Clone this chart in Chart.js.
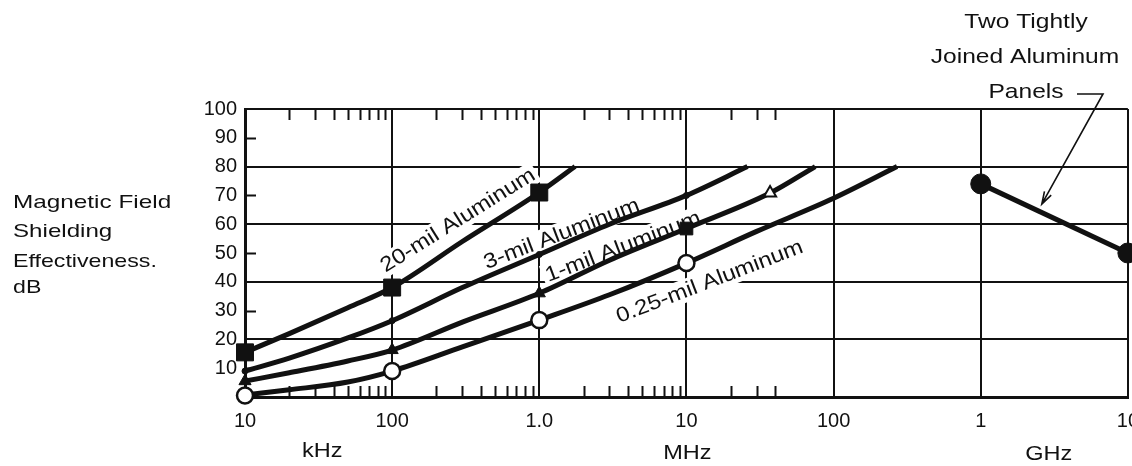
<!DOCTYPE html>
<html>
<head>
<meta charset="utf-8">
<script src="https://cdn.jsdelivr.net/npm/chart.js@4.4.1/dist/chart.umd.min.js"></script>
<style>
  html, body { margin: 0; padding: 0; background: #fff; overflow: hidden; }
  #wrap { position: absolute; left: 0; top: 0; width: 1151px; height: 466px; }
</style>
</head>
<body>
<div id="wrap"><canvas id="chart" width="1151" height="466"></canvas></div>
<script>
// Frequency axis (Hz) and its printed labels
const xTickValues = [1e4, 1e5, 1e6, 1e7, 1e8, 1e9, 1e10];
const xTickLabels = ['10', '100', '1.0', '10', '100', '1', '10'];
const yTickValues = [0, 10, 20, 30, 40, 50, 60, 70, 80, 90, 100];
const yTickLabels = ['', '10', '20', '30', '40', '50', '60', '70', '80', '90', '100'];
const yGridValues = [20, 40, 60, 80, 100];
const yMinorTicks = [10, 30, 50, 70, 90];
const minorDecades = [1e4, 1e5, 1e6, 1e7];
const minorSteps = [[2, 3, 4, 5, 6, 7, 8, 9], [2, 3, 4, 5, 6, 7, 8, 9], [2, 3, 4, 5, 6, 7, 8, 9], [2, 3, 4]];

// Curves, dB
const freq20 = [1e4, 2e4, 5e4, 1e5, 3e5, 1e6, 1.75e6];
const db20 = [15.5, 22, 31, 38, 54, 71, 80];
const freq3 = [1e4, 2e4, 5e4, 1e5, 3e5, 1e6, 3e6, 1e7, 2.6e7];
const db3 = [9, 13.5, 20.5, 26.5, 38, 49.5, 60, 70, 80];
const freq1 = [1e4, 2e4, 5e4, 1e5, 3e5, 1e6, 3e6, 1e7, 3.7e7, 7.5e7];
const db1 = [5.5, 8.4, 12.5, 16.3, 26, 36, 47.5, 58.5, 70.8, 80];
const freq025 = [1e4, 2e4, 5e4, 1e5, 3e5, 1e6, 3e6, 1e7, 3e7, 1e8, 2.7e8];
const db025 = [0.7, 2.5, 5.2, 9, 17.4, 26.7, 35.5, 46.5, 57.5, 69, 80];
const freqPanels = [1e9, 1e10];
const dbPanels = [74, 50];

// Marker points
const mark20Freq = [1e4, 1e5, 1e6];
const mark20Db = [15.5, 38, 71];
const mark3Freq = [1e4, 1e5, 1e6, 1e7];
const mark3Db = [9, 26.5, 49.5, 70];
const mark1TriFreq = [1e4, 1e5, 1e6];
const mark1TriDb = [5.5, 16.3, 36];
const mark1SqFreq = [1e7];
const mark1SqDb = [58.5];
const mark1OpenFreq = [3.7e7];
const mark1OpenDb = [70.8];
const mark025Freq = [1e4, 1e5, 1e6, 1e7];
const mark025Db = [0.5, 9, 26.7, 46.5];

const INK = '#111';
const FONT = '"Liberation Sans", Arial, Helvetica, sans-serif';

function pts(xs, ys) {
  return xs.map((x, i) => ({ x: x, y: ys[i] }));
}

function curve(xs, ys) {
  return {
    data: pts(xs, ys), borderColor: INK, borderWidth: 5, pointRadius: 0,
    cubicInterpolationMode: 'monotone', fill: false, order: 5
  };
}

function markers(xs, ys, style, radius, fillColor, lineW) {
  return {
    data: pts(xs, ys), showLine: false, pointStyle: style, pointRadius: radius,
    pointBackgroundColor: fillColor, pointBorderColor: INK, pointBorderWidth: lineW,
    clip: false, order: 1
  };
}

// Curve labels: anchor (start of baseline) in data units, angle in degrees
const curveLabels = [
  { text: '20-mil Aluminum', f: 9.0e4, db: 43.1, angle: -32 },
  { text: '3-mil Aluminum', f: 4.4e5, db: 44.4, angle: -21 },
  { text: '1-mil Aluminum', f: 1.15e6, db: 39.9, angle: -21 },
  { text: '0.25-mil Aluminum', f: 3.5e6, db: 25.7, angle: -21 }
];

function wideText(ctx, text, x, y, sx, align) {
  ctx.save();
  ctx.translate(x, y);
  ctx.scale(sx, 1);
  ctx.textAlign = align;
  ctx.fillText(text, 0, 0);
  ctx.restore();
}

const decor = {
  id: 'decor',
  beforeDatasetsDraw(chart) {
    const { ctx, chartArea: a, scales: { x, y } } = chart;
    ctx.save();
    ctx.strokeStyle = INK;
    ctx.lineWidth = 2;
    ctx.beginPath();
    minorDecades.forEach((d, i) => {
      minorSteps[i].forEach(m => {
        const px = Math.round(x.getPixelForValue(d * m)) + 0.5;
        ctx.moveTo(px, a.top); ctx.lineTo(px, a.top + 11);
        ctx.moveTo(px, a.bottom); ctx.lineTo(px, a.bottom - 11);
      });
    });
    yMinorTicks.forEach(v => {
      const py = Math.round(y.getPixelForValue(v)) + 0.5;
      ctx.moveTo(a.left, py); ctx.lineTo(a.left + 11, py);
    });
    ctx.stroke();

    // labels along the curves, on white so the grid breaks around them
    ctx.font = '21px ' + FONT;
    ctx.textBaseline = 'alphabetic';
    curveLabels.forEach(l => {
      const px = x.getPixelForValue(l.f);
      const py = y.getPixelForValue(l.db);
      const w = ctx.measureText(l.text).width * 1.14;
      ctx.save();
      ctx.translate(px, py);
      ctx.rotate(l.angle * Math.PI / 180);
      ctx.fillStyle = '#fff';
      ctx.fillRect(-3, -18, w + 6, 23);
      ctx.fillStyle = INK;
      ctx.scale(1.14, 1);
      ctx.fillText(l.text, 0, 0);
      ctx.restore();
    });
    ctx.restore();
  },
  afterDraw(chart) {
    const { ctx, scales: { x, y } } = chart;
    ctx.save();
    ctx.fillStyle = INK;
    ctx.textBaseline = 'alphabetic';

    // axis title
    ctx.font = '19px ' + FONT;
    wideText(ctx, 'Magnetic Field', 13, 208, 1.28, 'left');
    wideText(ctx, 'Shielding', 13, 237, 1.27, 'left');
    wideText(ctx, 'Effectiveness.', 13, 267, 1.22, 'left');
    wideText(ctx, 'dB', 13, 293, 1.22, 'left');

    // units under the frequency axis
    ctx.font = '21px ' + FONT;
    wideText(ctx, 'kHz', x.getPixelForValue(3.35e4), 457, 1.12, 'center');
    wideText(ctx, 'MHz', x.getPixelForValue(1e7) + 1, 459, 1.12, 'center');
    wideText(ctx, 'GHz', x.getPixelForValue(2.9e9), 460, 1.12, 'center');

    // note for the panel curve
    wideText(ctx, 'Two Tightly', 1026, 28, 1.17, 'center');
    wideText(ctx, 'Joined Aluminum', 1025, 63, 1.17, 'center');
    wideText(ctx, 'Panels', 1026, 98, 1.17, 'center');

    const tipX = x.getPixelForValue(2.6e9);
    const tipY = y.getPixelForValue(67);
    const sx = 1103, sy = 94;
    ctx.strokeStyle = INK;
    ctx.lineWidth = 1.6;
    ctx.beginPath();
    ctx.moveTo(1077, sy); ctx.lineTo(sx, sy); ctx.lineTo(tipX, tipY);
    const ang = Math.atan2(tipY - sy, tipX - sx);
    ctx.moveTo(tipX - 13 * Math.cos(ang - 0.3), tipY - 13 * Math.sin(ang - 0.3));
    ctx.lineTo(tipX, tipY);
    ctx.lineTo(tipX - 13 * Math.cos(ang + 0.3), tipY - 13 * Math.sin(ang + 0.3));
    ctx.stroke();
    ctx.restore();
  }
};

new Chart(document.getElementById('chart'), {
  type: 'line',
  data: {
    datasets: [
      markers(mark20Freq, mark20Db, 'rect', 12, INK, 1),
      markers(mark3Freq, mark3Db, 'circle', 3, INK, 1),
      markers(mark1TriFreq, mark1TriDb, 'triangle', 7, INK, 1),
      markers(mark1SqFreq, mark1SqDb, 'rect', 9, INK, 1),
      markers(mark1OpenFreq, mark1OpenDb, 'triangle', 7, '#fff', 2),
      markers(mark025Freq, mark025Db, 'circle', 8, '#fff', 2.5),
      markers(freqPanels, dbPanels, 'circle', 10, INK, 1),
      curve(freq20, db20),
      curve(freq3, db3),
      curve(freq1, db1),
      curve(freq025, db025),
      { data: pts(freqPanels, dbPanels), borderColor: INK, borderWidth: 5, pointRadius: 0, tension: 0, clip: false, order: 5 }
    ]
  },
  options: {
    responsive: false,
    animation: false,
    devicePixelRatio: 1,
    layout: { padding: { top: 109, right: 18, bottom: 0, left: 0 } },
    plugins: { legend: { display: false }, tooltip: { enabled: false } },
    scales: {
      x: {
        type: 'logarithmic', min: 1e4, max: 1e10,
        afterBuildTicks: s => { s.ticks = xTickValues.map(v => ({ value: v })); },
        afterFit: s => { s.height = 69; },
        ticks: {
          autoSkip: false, maxRotation: 0, padding: 12, color: INK,
          font: { size: 20, family: FONT },
          callback: (v, i) => xTickLabels[i]
        },
        grid: {
          drawTicks: false, lineWidth: 2,
          color: c => (c.tick && c.tick.value > 1e4) ? INK : 'rgba(0,0,0,0)'
        },
        border: { color: INK, width: 3 }
      },
      y: {
        min: 0, max: 100,
        afterBuildTicks: s => { s.ticks = yTickValues.map(v => ({ value: v })); },
        afterFit: s => { s.width = 245; },
        ticks: {
          padding: 8, color: INK,
          font: { size: 20, family: FONT },
          callback: (v, i) => yTickLabels[i]
        },
        grid: {
          drawTicks: false, lineWidth: 2,
          color: c => (c.tick && yGridValues.includes(c.tick.value)) ? INK : 'rgba(0,0,0,0)'
        },
        border: { color: INK, width: 3 }
      }
    }
  },
  plugins: [decor]
});
</script>
</body>
</html>
